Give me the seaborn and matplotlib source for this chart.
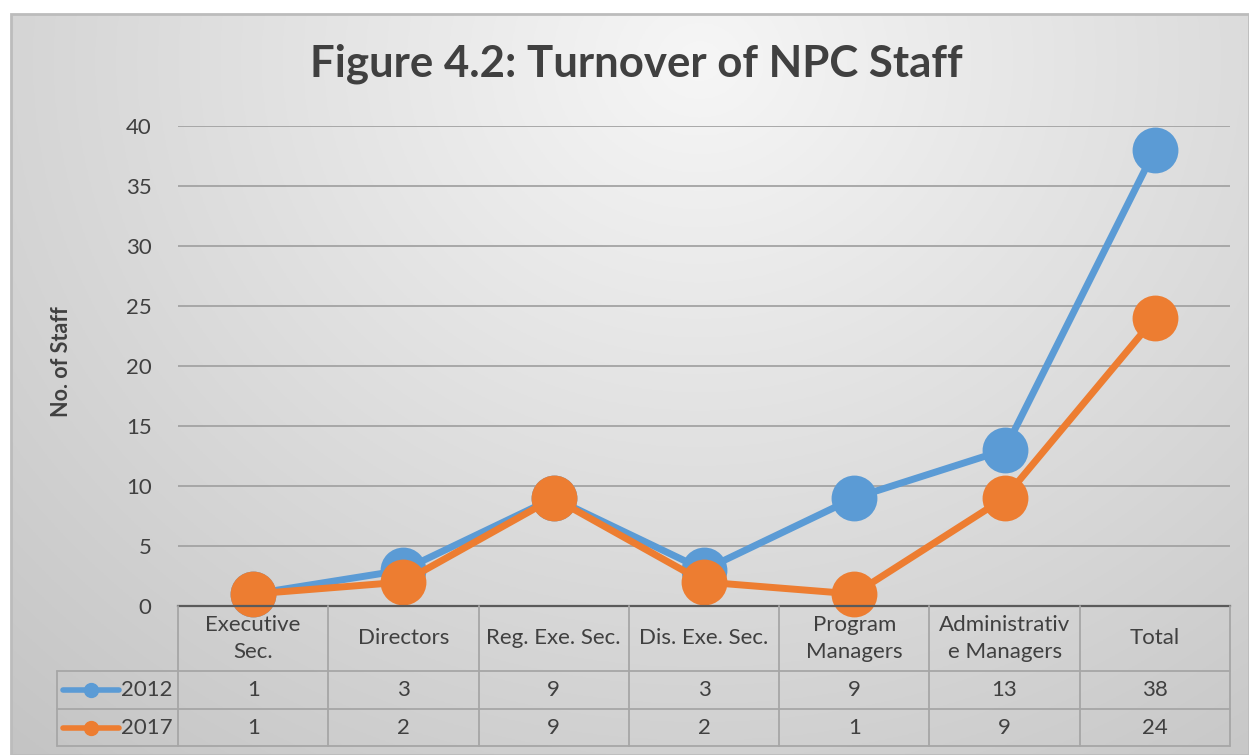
import numpy as np
import pandas as pd
import matplotlib
matplotlib.use("Agg")
import matplotlib.pyplot as plt
import seaborn as sns
from matplotlib.patches import Rectangle

# ---------------- data ----------------
categories = ["Executive\nSec.", "Directors", "Reg. Exe. Sec.", "Dis. Exe. Sec.",
              "Program\nManagers", "Administrativ\ne Managers", "Total"]
series_names = ["2012", "2017"]
values_2012 = [1, 3, 9, 3, 9, 13, 38]
values_2017 = [1, 2, 9, 2, 1, 9, 24]
yticks = [0, 5, 10, 15, 20, 25, 30, 35, 40]
title = "Figure 4.2: Turnover of NPC Staff"
ylabel = "No. of Staff"

BLUE = "#5B9BD5"
ORANGE = "#ED7D31"
TXT = "#404040"
GRID = "#a3a3a3"

df = pd.DataFrame({
    "pos": list(range(len(categories))) * 2,
    "value": values_2012 + values_2017,
    "series": [series_names[0]] * len(categories) + [series_names[1]] * len(categories),
})

W, H = 1249, 755
sns.set_theme(style="white")
plt.rcParams["font.family"] = ["Lato", "DejaVu Sans"]

fig = plt.figure(figsize=(W / 100, H / 100), dpi=100)
fig.patch.set_facecolor("white")

# ---------------- background gradient ----------------
bx0, by0 = 11, 14
bg = fig.add_axes([bx0 / W, 0, (W - bx0) / W, (H - by0) / H])
xs = np.linspace(bx0, W, 400)
ys = np.linspace(by0, H, 300)
XX, YY = np.meshgrid(xs, ys)
d = np.sqrt(((XX - 700) / 850) ** 2 + ((YY - 60) / 750) ** 2)
val = np.clip(0.965 - 0.16 * d, 0, 1)
img = np.dstack([val, val, val])
bg.imshow(img, aspect="auto", extent=[0, 1, 0, 1], origin="upper")
bg.set_xlim(0, 1)
bg.set_ylim(0, 1)
bg.axis("off")
bg.add_patch(Rectangle((0, 0), 1, 1, fill=False, edgecolor="#bcbcbc", lw=2,
                       transform=bg.transAxes, clip_on=False))

# ---------------- main plot ----------------
left, right, top, bottom = 178, 1230, 126, 606
ax = fig.add_axes([left / W, (H - bottom) / H, (right - left) / W, (bottom - top) / H])
ax.patch.set_alpha(0)
sns.lineplot(data=df, x="pos", y="value", hue="series", hue_order=series_names,
             palette=[BLUE, ORANGE], marker="o", markersize=33, markeredgewidth=0,
             linewidth=5, legend=False, sort=False, ax=ax)
for ln in ax.lines:
    ln.set_clip_on(False)
ax.set_xlim(-0.5, len(categories) - 0.5)
ax.set_ylim(yticks[0], yticks[-1])
ax.set_yticks(yticks)
ax.set_xticks([])
ax.set_xlabel("")
ax.set_ylabel("")
ax.yaxis.grid(True, color=GRID, lw=1.3)
ax.set_axisbelow(True)
for s in ["top", "right", "left"]:
    ax.spines[s].set_visible(False)
ax.spines["bottom"].set_color("#5a5a5a")
ax.spines["bottom"].set_linewidth(1.6)
ax.tick_params(axis="y", length=0, pad=19, labelsize=16, labelcolor=TXT)

fig.text(62 / W, 1 - 362 / H, ylabel, rotation=90, fontweight="bold", fontsize=15.5,
         ha="center", va="center", color=TXT)
fig.text(636 / W, 1 - 64 / H, title, ha="center", va="center", fontsize=31.5,
         fontweight="bold", color=TXT)

# ---------------- data table ----------------
tleft, tbottom = 57, 746
unit = (right - left) / len(categories)
key_w = (left - tleft) / unit
tax = fig.add_axes([tleft / W, (H - tbottom) / H, (right - tleft) / W, (tbottom - bottom) / H])
tax.set_xlim(-0.5 - key_w, len(categories) - 0.5)
tax.set_ylim(tbottom - bottom, 0)
tax.axis("off")
hdr, r1 = 65, 103
rbot = tbottom - bottom
lc = "#a6a6a6"
for k in range(len(categories) + 1):
    tax.plot([k - 0.5, k - 0.5], [0, rbot], color=lc, lw=1.3, clip_on=False)
tax.plot([-0.5 - key_w] * 2, [hdr, rbot], color=lc, lw=1.3, clip_on=False)
for yy in (hdr, r1, rbot):
    tax.plot([-0.5 - key_w, len(categories) - 0.5], [yy, yy], color=lc, lw=1.3, clip_on=False)

for i, c in enumerate(categories):
    tax.text(i, hdr / 2, c, ha="center", va="center", fontsize=16, color=TXT,
             linespacing=1.45)
rows = [(series_names[0], values_2012, BLUE, (hdr + r1) / 2),
        (series_names[1], values_2017, ORANGE, (r1 + rbot) / 2)]
px = 1 / unit
x0 = -0.5 - key_w
for name, vals, col, yc in rows:
    for i, v in enumerate(vals):
        tax.text(i, yc, str(v), ha="center", va="center", fontsize=16, color=TXT)
    tax.plot([x0 + 6 * px, x0 + 62 * px], [yc, yc], color=col, lw=4, solid_capstyle="round",
             clip_on=False)
    tax.plot([x0 + 34 * px], [yc], marker="o", ms=10, color=col, mec=col, clip_on=False)
    tax.text(x0 + 64 * px, yc, name, ha="left", va="center", fontsize=16, color=TXT)

fig.savefig("out.png", dpi=100)
